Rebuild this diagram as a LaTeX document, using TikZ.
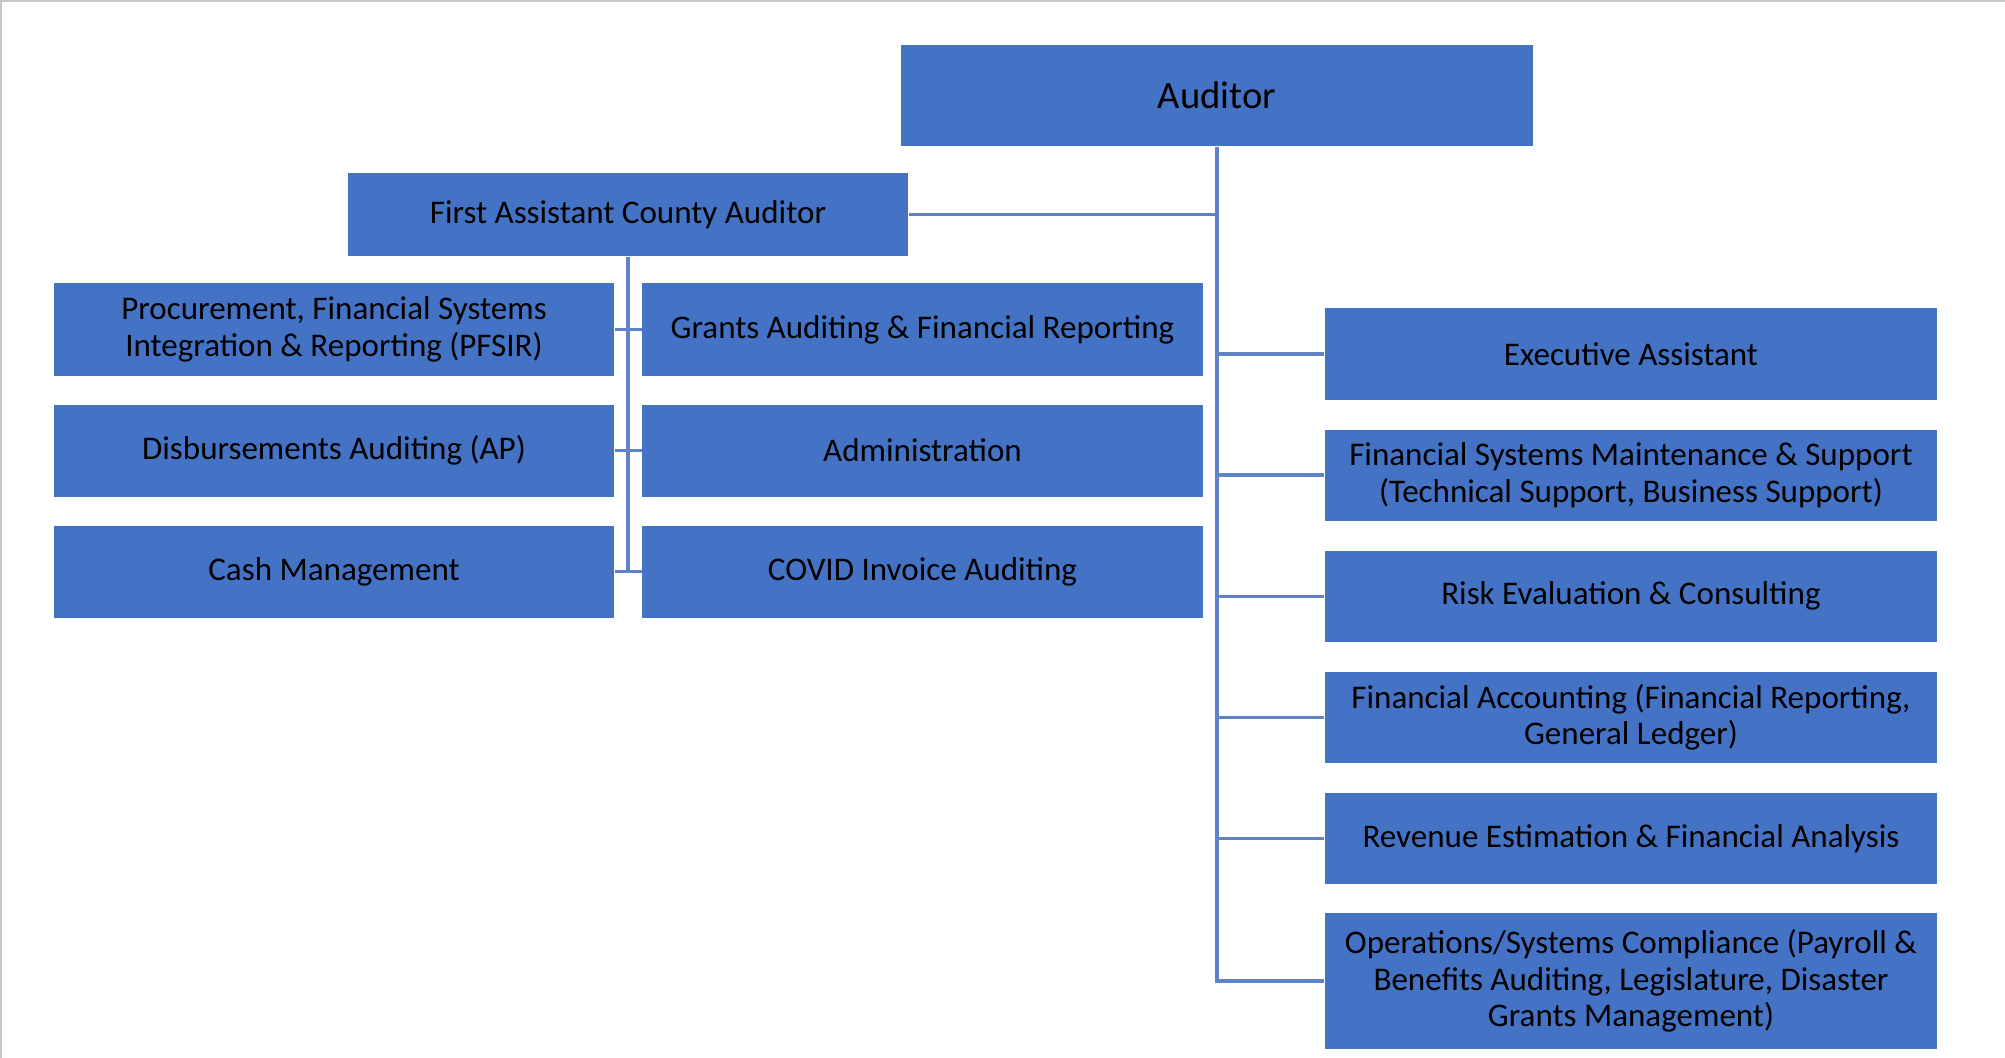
\documentclass[tikz,border=0pt]{standalone}
\usepackage{fontspec}
\setmainfont{Carlito}
\definecolor{boxblue}{HTML}{4472C4}
\definecolor{linkblue}{HTML}{5F82C9}

\begin{document}
\begin{tikzpicture}[x=0.01cm, y=0.01cm, node distance=1.21cm]
  \tikzstyle{every node}=[font=\fontsize{9.4}{10.4}\selectfont]
  \tikzstyle{unit}=[rectangle, fill=boxblue, text=black, align=center,
                    inner sep=0pt, minimum width=5.6cm, minimum height=0.92cm]
  \tikzstyle{side}=[unit, minimum width=6.12cm, minimum height=0.91cm]
  \tikzstyle{link}=[draw=linkblue, line width=0.9pt]

  \useasboundingbox (0,0) rectangle (2005,-1058);
  \draw[gray!45, line width=0.6pt] (1,-1058) -- (1,-1) -- (2005,-1);

	\node[unit, minimum width=6.32cm, minimum height=1.01cm,
	      font=\fontsize{11}{13}\selectfont]	(aud)	at (1217,-95.5)	{Auditor};
	\node[unit, minimum height=0.83cm]	(fa)	at (628,-214.5)	{First Assistant County Auditor};

	% first assistant's units
	\node[unit]	(pf)	at (334,-329.5)	{Procurement, Financial Systems\\Integration \& Reporting (PFSIR)};
	\node[unit]	(ap)	[below of=pf]	{Disbursements Auditing (AP)};
	\node[unit]	(cash)	[below of=ap]	{Cash Management};
	\node[unit]	(gr)	at (922.5,-329.5)	{Grants Auditing \& Financial Reporting};
	\node[unit]	(adm)	[below of=gr]	{Administration};
	\node[unit]	(cov)	[below of=adm]	{COVID Invoice Auditing};

	% auditor's units
	\node[side]	(ea)	at (1631,-354)	{Executive Assistant};
	\node[side]	(fsm)	[below of=ea]	{Financial Systems Maintenance \& Support\\(Technical Support, Business Support)};
	\node[side]	(risk)	[below of=fsm]	{Risk Evaluation \& Consulting};
	\node[side]	(acc)	[below of=risk]	{Financial Accounting (Financial Reporting,\\General Ledger)};
	\node[side]	(rev)	[below of=acc]	{Revenue Estimation \& Financial Analysis};
	\node[side, minimum height=1.36cm]	(ops)	at (1631,-981)	{Operations/Systems Compliance (Payroll \&\\Benefits Auditing, Legislature, Disaster\\Grants Management)};

	\draw[link]	(aud.south) |- (ops.west);
	\foreach \n in {ea,fsm,risk,acc,rev}
		\draw[link]	(aud.south |- \n.west) -- (\n.west);
	\draw[link]	(fa.east) -- (fa.east -| aud.south);
	\draw[link]	(fa.south) -- (fa.south |- cash.east);

	\path[link]
			(pf)	edge	(gr)
			(ap)	edge	(adm)
			(cash)	edge	(cov);

\end{tikzpicture}
\end{document}
